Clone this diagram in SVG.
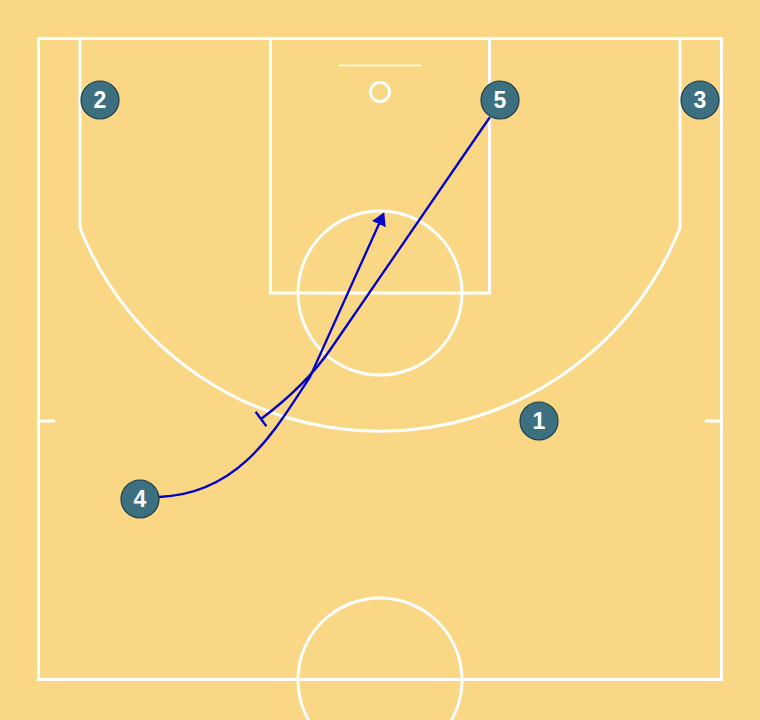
<svg xmlns="http://www.w3.org/2000/svg" width="760" height="720" viewBox="0 0 760 720">
<style>
.court{fill:none;stroke:#ffffff;stroke-width:3}
.thin{fill:none;stroke:#ffffff;stroke-width:1.5}
.pc{fill:#3c6f80;stroke:#1e3d47;stroke-width:1.2}
.pt{fill:#ffffff;font-family:"Liberation Sans",Arial,sans-serif;font-weight:bold;font-size:23px;text-anchor:middle}
.mv{fill:none;stroke:#0000c8;stroke-width:2.3}
</style>
<defs>
<marker id="arr" viewBox="0 -8 14 16" refX="10" refY="0" markerWidth="14" markerHeight="16" markerUnits="userSpaceOnUse" orient="auto">
<path d="M0,-7.5 L13,0 L0,7.5 Z" fill="#0000c8"/>
</marker>
</defs>
<rect x="0" y="0" width="760" height="720" fill="#fad784"/>
<g id="court">
<rect class="court" x="38.5" y="38.5" width="683" height="641"/>
<path class="court" d="M80,38 V228 A323,323 0 0 0 680,228 V38"/>
<rect class="court" x="270.5" y="38.5" width="219" height="254.5"/>
<circle class="court" cx="380" cy="293" r="82"/>
<circle class="court" cx="380" cy="680" r="82"/>
<line class="thin" x1="339" y1="65.5" x2="421" y2="65.5"/>
<circle class="court" cx="380" cy="92" r="9.5"/>
<line class="court" x1="38" y1="421" x2="55" y2="421"/>
<line class="court" x1="705" y1="421" x2="722" y2="421"/>
</g>
<g id="connectors">
<path class="mv" d="M159,497 C240,494 275,430 310,377 L383,215" marker-end="url(#arr)"/>
<path class="mv" d="M490,117 L330,350 Q305,386 261,419"/>
<line class="mv" x1="255.6" y1="411.8" x2="266.4" y2="426.2"/>
</g>
<g id="p2"><circle class="pc" cx="100" cy="100" r="19"/><text class="pt" x="100" y="108">2</text></g>
<g id="p5"><circle class="pc" cx="500" cy="100" r="19"/><text class="pt" x="500" y="108">5</text></g>
<g id="p3"><circle class="pc" cx="700" cy="100" r="19"/><text class="pt" x="700" y="108">3</text></g>
<g id="p1"><circle class="pc" cx="539" cy="421" r="19"/><text class="pt" x="539" y="429">1</text></g>
<g id="p4"><circle class="pc" cx="140" cy="499" r="19"/><text class="pt" x="140" y="507">4</text></g>
</svg>
